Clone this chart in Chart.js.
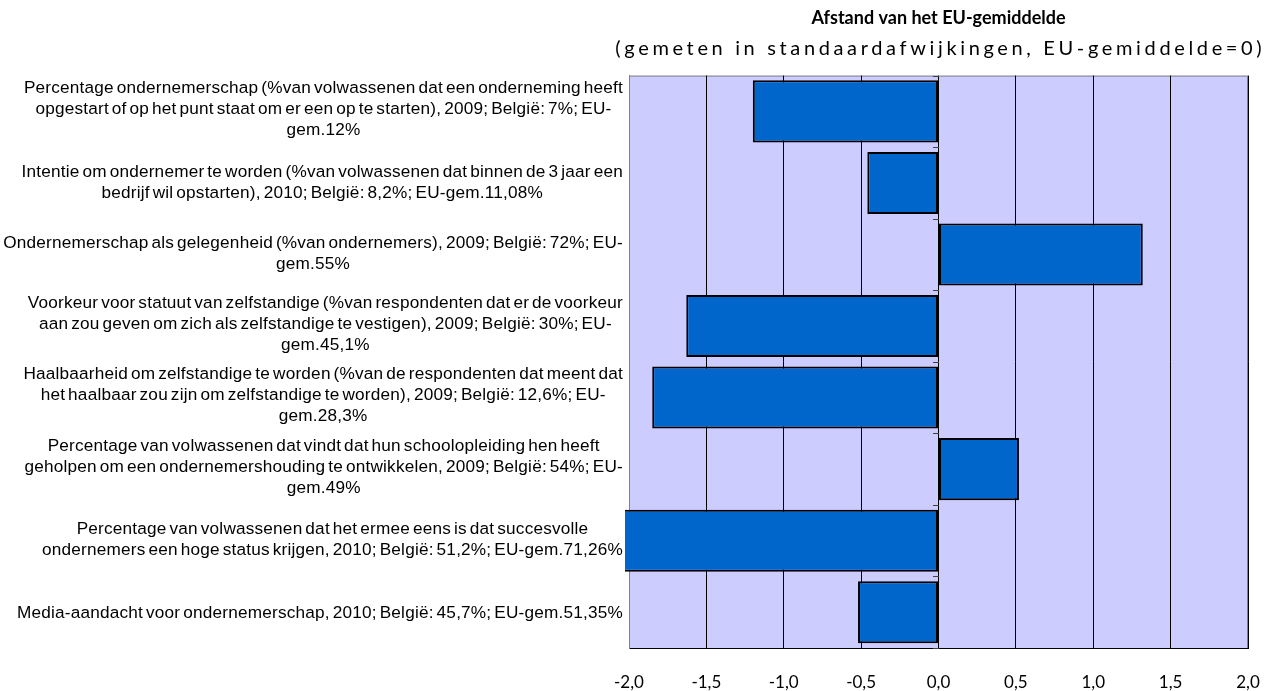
<!DOCTYPE html>
<html>
<head>
<meta charset="utf-8">
<script src="https://cdn.jsdelivr.net/npm/chart.js"></script>
<style>
    body { margin: 0; background: #fff; }
    #wrap { width: 1270px; height: 691px; position: relative; }
</style>
</head>
<body>
<div id="wrap"><canvas id="bar-chart"></canvas></div>
<script>
// indicator labels, one array of lines per bar (as wrapped in the original)
var categories = [
    ['Percentage ondernemerschap (%van volwassenen dat een onderneming heeft', 'opgestart of op het punt staat om er een op te starten), 2009; België: 7%; EU-', 'gem.12%'],
    ['Intentie om ondernemer te worden (%van volwassenen dat binnen de 3 jaar een', 'bedrijf wil opstarten), 2010; België: 8,2%; EU-gem.11,08%'],
    ['Ondernemerschap als gelegenheid (%van ondernemers), 2009; België: 72%; EU-', 'gem.55%'],
    ['Voorkeur voor statuut van zelfstandige (%van respondenten dat er de voorkeur', 'aan zou geven om zich als zelfstandige te vestigen), 2009; België: 30%; EU-', 'gem.45,1%'],
    ['Haalbaarheid om zelfstandige te worden (%van de respondenten dat meent dat', 'het haalbaar zou zijn om zelfstandige te worden), 2009; België: 12,6%; EU-', 'gem.28,3%'],
    ['Percentage van volwassenen dat vindt dat hun schoolopleiding hen heeft', 'geholpen om een ondernemershouding te ontwikkelen, 2009; België: 54%; EU-', 'gem.49%'],
    ['Percentage van volwassenen dat het ermee eens is dat succesvolle', 'ondernemers een hoge status krijgen, 2010; België: 51,2%; EU-gem.71,26%'],
    ['Media-aandacht voor ondernemerschap, 2010; België: 45,7%; EU-gem.51,35%']
];

// distance from the EU average, in standard deviations
var distanceValues = [-1.2, -0.46, 1.32, -1.63, -1.85, 0.52, -2.05, -0.52];

var axisMin = -2;
var axisMax = 2;
var axisStep = 0.5;

var chartTitle = 'Afstand van het EU-gemiddelde';
var chartSubtitle = '(gemeten in standaardafwijkingen, EU-gemiddelde=0)';

/**
 * Plot background, zero-axis ticks, category labels and the subtitle
 */
var excelLook = {
    id: 'excelLook',
    beforeDraw: function(chart) {
        var ctx = chart.ctx;
        var a = chart.chartArea;
        ctx.save();
        ctx.fillStyle = '#CCCCFF';
        ctx.fillRect(a.left, a.top, a.right - a.left, a.bottom - a.top);
        ctx.strokeStyle = '#808080';
        ctx.lineWidth = 1;
        ctx.strokeRect(a.left + 0.5, a.top + 0.5, a.right - a.left - 1, a.bottom - a.top);
        ctx.restore();
    },
    afterDraw: function(chart) {
        var ctx = chart.ctx;
        var a = chart.chartArea;
        var x = chart.scales.x;
        var y = chart.scales.y;
        var zero = Math.round(x.getPixelForValue(0));

        ctx.save();

        // little ticks on the vertical axis crossing at 0
        ctx.strokeStyle = '#404040';
        ctx.lineWidth = 1;
        for (var i = 0; i <= categories.length; i++) {
            var yy = Math.round(y.getPixelForValue(i - 0.5)) + 0.5;
            ctx.beginPath();
            ctx.moveTo(zero - 6, yy);
            ctx.lineTo(zero, yy);
            ctx.stroke();
        }

        // category labels: each block right-anchored, lines centred in it
        ctx.font = '17.2px "Liberation Sans", Arial, sans-serif';
        ctx.letterSpacing = '0.2px';
        ctx.wordSpacing = '-2px';
        ctx.fillStyle = '#000';
        ctx.textAlign = 'center';
        ctx.textBaseline = 'middle';
        var lineHeight = 21;
        var rightEdge = a.left - 6;
        categories.forEach(function(lines, idx) {
            var widest = 0;
            lines.forEach(function(l) {
                widest = Math.max(widest, ctx.measureText(l).width);
            });
            var cx = rightEdge - widest / 2;
            var cy = y.getPixelForTick(idx) - (lines.length - 1) * 1.5 + 1;
            var startY = cy - (lines.length - 1) * lineHeight / 2;
            lines.forEach(function(l, n) {
                ctx.fillText(l, cx, startY + n * lineHeight);
            });
        });

        // subtitle, spread out like in the original
        ctx.font = '20px Lato, sans-serif';
        ctx.letterSpacing = '0px';
        ctx.wordSpacing = '0px';
        var w = ctx.measureText(chartSubtitle).width;
        var spread = (650 - w) / chartSubtitle.length;
        ctx.letterSpacing = spread + 'px';
        ctx.fillText(chartSubtitle, (a.left + a.right) / 2 + spread / 2, 49);

        ctx.restore();
    }
};

/**
 * Function to generate the horizontal bar chart
 *
 * @param string chartElement
 */
function generateDistanceChart(chartElement) {
    var canvas = document.getElementById(chartElement).getContext('2d');

    new Chart(canvas, {
        type: 'bar',
        data: {
            labels: categories,
            datasets: [{
                data: distanceValues,
                backgroundColor: '#0066CC',
                borderColor: '#000000',
                borderWidth: 2,
                borderSkipped: false,
                categoryPercentage: 1.0,
                barPercentage: 0.867,
                clip: { left: 4, top: 0, right: 0, bottom: 0 }
            }]
        },
        options: {
            indexAxis: 'y',
            responsive: true,
            maintainAspectRatio: false,
            animation: false,
            layout: {
                padding: { left: 0, right: 22, top: 0, bottom: 0 }
            },
            plugins: {
                legend: { display: false },
                tooltip: { enabled: false },
                title: {
                    display: true,
                    text: chartTitle,
                    fullSize: false,
                    color: '#000',
                    font: { family: 'Lato, sans-serif', size: 18, weight: 'bold' },
                    padding: { top: 7, bottom: 47 }
                }
            },
            scales: {
                x: {
                    type: 'linear',
                    min: axisMin,
                    max: axisMax,
                    grid: {
                        color: '#000',
                        lineWidth: 1,
                        drawTicks: true,
                        tickLength: 24,
                        tickColor: 'rgba(0,0,0,0)'
                    },
                    border: { color: '#000', width: 1 },
                    ticks: {
                        stepSize: axisStep,
                        padding: 0,
                        color: '#000',
                        font: { family: 'Lato, sans-serif', size: 17 },
                        callback: function(value) {
                            return value.toFixed(1).replace('.', ',');
                        }
                    },
                    afterFit: function(scale) {
                        scale.height = 43;
                    }
                },
                y: {
                    type: 'category',
                    offset: true,
                    grid: { display: false },
                    border: { color: '#808080', width: 1 },
                    ticks: { display: false },
                    afterFit: function(scale) {
                        scale.width = 629;
                    }
                }
            }
        },
        plugins: [excelLook]
    });
}

generateDistanceChart('bar-chart');
</script>
</body>
</html>
